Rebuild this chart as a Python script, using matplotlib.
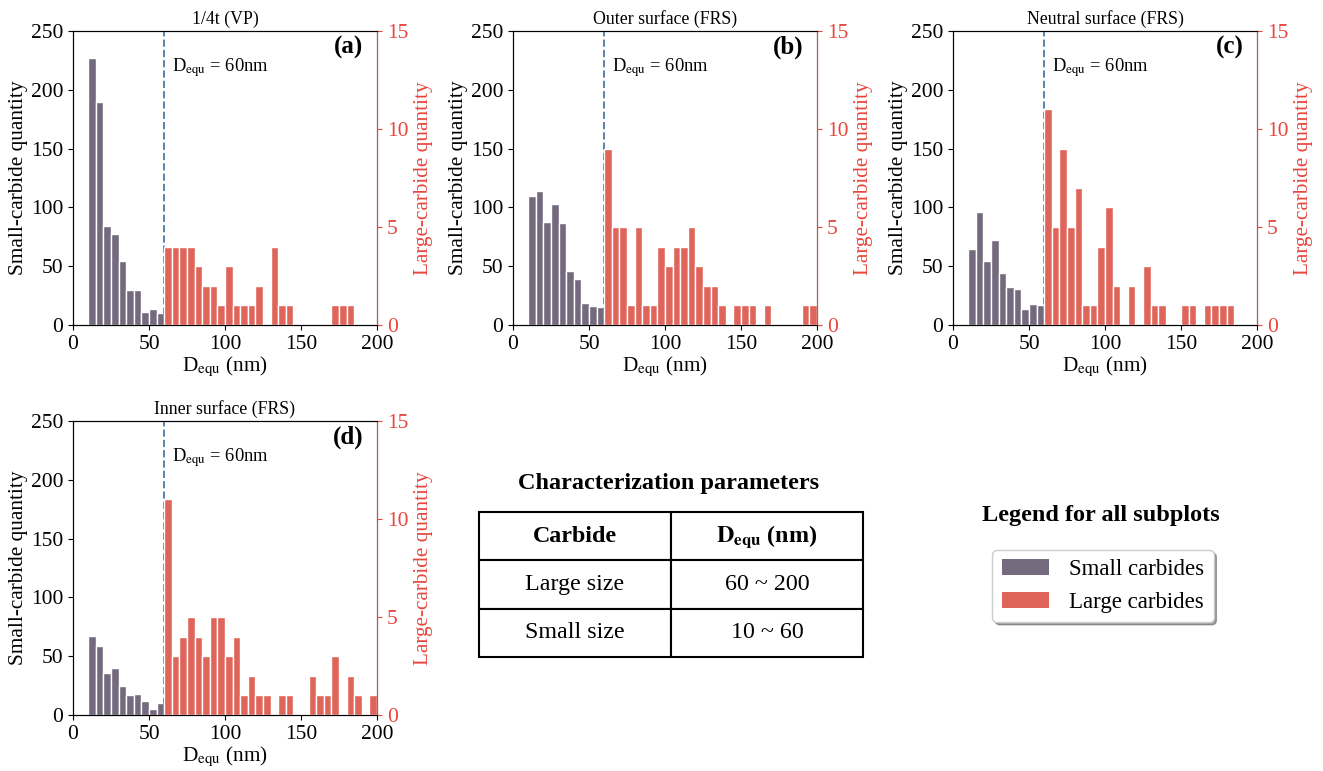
import matplotlib
matplotlib.use("Agg")
import matplotlib.pyplot as plt
from matplotlib.patches import Patch
import numpy as np

plt.rcParams["font.family"] = ["Liberation Serif", "DejaVu Serif"]
plt.rcParams["mathtext.fontset"] = "stix"

# bin left edges (nm)
small_edges = np.arange(10, 60, 5)
large_edges = np.arange(60, 200, 5)

titles = ["1/4t (VP)", "Outer surface (FRS)", "Neutral surface (FRS)", "Inner surface (FRS)"]
tags = ["(a)", "(b)", "(c)", "(d)"]

# small-carbide counts per 5 nm bin (10-60 nm)
small_a = [227, 190, 84, 77, 54, 30, 30, 11, 14, 10]
small_b = [110, 114, 88, 103, 87, 46, 39, 19, 16, 15]
small_c = [65, 96, 54, 72, 44, 32, 31, 14, 18, 17]
small_d = [67, 59, 36, 40, 25, 17, 18, 12, 5, 10]

# large-carbide counts per 5 nm bin (60-200 nm)
large_a = [4, 4, 4, 4, 3, 2, 2, 1, 3, 1, 1, 1, 2, 0, 4, 1, 1, 0, 0, 0, 0, 0, 1, 1, 1, 0, 0, 0]
large_b = [9, 5, 5, 1, 5, 1, 1, 4, 3, 4, 4, 5, 3, 2, 2, 1, 0, 1, 1, 1, 0, 1, 0, 0, 0, 0, 1, 1]
large_c = [11, 5, 9, 5, 7, 1, 1, 4, 6, 2, 0, 2, 0, 3, 1, 1, 0, 0, 1, 1, 0, 1, 1, 1, 1, 0, 0, 0]
large_d = [11, 3, 4, 5, 4, 3, 5, 5, 3, 4, 1, 2, 1, 1, 0, 1, 1, 0, 0, 2, 1, 1, 3, 0, 2, 1, 0, 1]

small_all = [small_a, small_b, small_c, small_d]
large_all = [large_a, large_b, large_c, large_d]

c_small = "#736a7e"
c_large = "#df645a"
c_axis_red = "#e8453c"
c_line = "#5a82b0"

fig = plt.figure(figsize=(13.23, 7.71), dpi=100)

W, H = 1323, 771
positions = [(73, 31), (513, 31), (953, 31), (73, 421)]
aw, ah = 304, 294

for i in range(4):
    x0, y0 = positions[i]
    ax = fig.add_axes([x0 / W, 1 - (y0 + ah) / H, aw / W, ah / H])
    ax.bar(small_edges, small_all[i], width=5, align="edge", color=c_small,
           edgecolor="white", linewidth=1)
    ax.set_xlim(0, 200)
    ax.set_ylim(0, 250)
    ax.set_xticks([0, 50, 100, 150, 200])
    ax.set_yticks([0, 50, 100, 150, 200, 250])
    ax.tick_params(labelsize=15.5)
    ax.set_ylabel("Small-carbide quantity", fontsize=15.3, labelpad=2)
    ax.set_xlabel(r"D$_{\rm equ}$ (nm)", fontsize=15.3, labelpad=1)
    ax.set_title(titles[i], fontsize=12.8, pad=5)
    ax.axvline(60, color=c_line, linestyle="--", linewidth=1.4, zorder=5)

    ax2 = ax.twinx()
    ax2.bar(large_edges, large_all[i], width=5, align="edge", color=c_large,
            edgecolor="white", linewidth=1)
    ax2.set_ylim(0, 15)
    ax2.set_yticks([0, 5, 10, 15])
    ax2.tick_params(axis="y", colors=c_axis_red, labelsize=15.5)
    ax2.spines["right"].set_color(c_axis_red)
    ax2.set_ylabel("Large-carbide quantity", color=c_axis_red, fontsize=15.3)

    ax.text(65, 0.874 * 250, r"D$_{\rm equ}$ = 60nm", fontsize=13.3, va="center")
    ax.text(0.955, 0.945, tags[i], transform=ax.transAxes, fontsize=18,
            fontweight="bold", ha="right", va="center")

# table with characterization parameters
fig.text(669 / W, 1 - 483 / H, "Characterization parameters", fontsize=17.5,
         fontweight="bold", ha="center", va="center")
tab_ax = fig.add_axes([479 / W, 1 - 657 / H, 384 / W, 145 / H])
tab_ax.axis("off")
cells = [["Large size", "60 ~ 200"], ["Small size", "10 ~ 60"]]
cols = ["Carbide", r"$\mathbf{D}_{\mathbf{equ}}$ (nm)"]
tbl = tab_ax.table(cellText=cells, colLabels=cols, cellLoc="center",
                   bbox=[0, 0, 1, 1])
tbl.auto_set_font_size(False)
for (r, c), cell in tbl.get_celld().items():
    cell.set_linewidth(1.5)
    cell.set_text_props(fontsize=17.3)
    if r == 0:
        cell.set_text_props(fontweight="bold", fontsize=17.3)

# shared legend
fig.text(1101 / W, 1 - 516 / H, "Legend for all subplots", fontsize=17.5,
         fontweight="bold", ha="center", va="center")
handles = [Patch(facecolor=c_small, label="Small carbides"),
           Patch(facecolor=c_large, label="Large carbides")]
fig.legend(handles=handles, loc="center", bbox_to_anchor=(1103 / W, 1 - 586 / H),
           fontsize=16.5, shadow=True, handlelength=2.05, handleheight=0.7,
           handletextpad=0.9, borderpad=0.4, framealpha=1)

fig.savefig("out.png", dpi=100)
